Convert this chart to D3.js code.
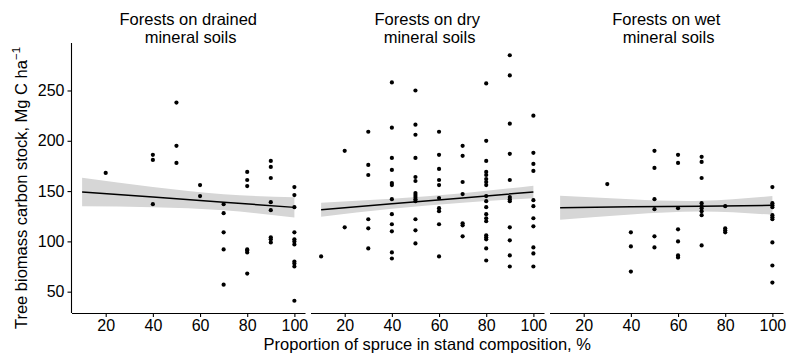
<!DOCTYPE html>
<html>
<head>
<meta charset="utf-8">
<script src="https://cdn.jsdelivr.net/npm/d3@7"></script>
<style>
  body { margin: 0; background: #fff; }
  text { font-family: "Liberation Sans", Arial, sans-serif; fill: #000; }
</style>
</head>
<body>
<script>
// facet titles
var panelTitles = [
  ["Forests on drained", " mineral soils"],
  ["Forests on dry", " mineral soils"],
  ["Forests on wet", " mineral soils"]
];

var xTicks = [20, 40, 60, 80, 100];
var yTicks = [50, 100, 150, 200, 250];

// points: [spruce %, carbon stock]
var drained = [
  [20,168],
  [40,186],[40,181],[40,137],
  [50,238],[50,195],[50,178],
  [60,156],[60,145],
  [70,137],[70,128],[70,109],[70,92],[70,57],
  [80,169],[80,161],[80,155],[80,92],[80,91],[80,89],[80,68],
  [90,180],[90,174],[90,163],[90,139],[90,131],[90,104],[90,102],[90,99],
  [100,154],[100,146],[100,134],[100,109],[100,102],[100,100],[100,97],[100,80],[100,78],[100,75],[100,41]
];

var dry = [
  [10,85],
  [20,190],[20,114],
  [30,209],[30,176],[30,166],[30,122],[30,113],[30,93],
  [40,258],[40,213],[40,183],[40,171],[40,158],[40,156],[40,142],[40,127],[40,117],[40,110],[40,89],[40,83],
  [50,250],[50,216],[50,206],[50,183],[50,164],[50,160],[50,148],[50,146],[50,144],[50,142],[50,140],[50,122],[50,111],[50,98],
  [60,209],[60,186],[60,172],[60,161],[60,156],[60,143],[60,133],[60,130],[60,117],[60,85],
  [70,195],[70,185],[70,159],[70,147],[70,118],[70,116],[70,105],
  [80,257],[80,200],[80,180],[80,169],[80,166],[80,162],[80,159],[80,156],[80,145],[80,140],[80,134],[80,127],[80,123],[80,120],[80,106],[80,104],[80,102],[80,93],[80,81],
  [90,285],[90,265],[90,217],[90,187],[90,161],[90,144],[90,142],[90,140],[90,114],[90,101],[90,86],[90,75],
  [100,225],[100,188],[100,177],[100,170],[100,141],[100,135],[100,123],[100,115],[100,94],[100,88],[100,75]
];

var wet = [
  [30,157],
  [40,109],[40,95],[40,70],
  [50,190],[50,173],[50,142],[50,132],[50,105],[50,94],
  [60,186],[60,178],[60,133],[60,112],[60,100],[60,86],[60,84],
  [70,184],[70,179],[70,163],[70,138],[70,135],[70,133],[70,130],[70,126],[70,96],
  [80,135],[80,113],[80,111],[80,109],
  [100,154],[100,138],[100,136],[100,134],[100,126],[100,124],[100,122],[100,99],[100,76],[100,59]
];

// fitted line and confidence band, read at these x values
var fitX = [10, 40, 70, 100];
var drainedFit = [149.1, 144.0, 138.9, 133.8];
var drainedLo  = [134.8, 133.9, 130.9, 123.8];
var drainedHi  = [163.2, 154.1, 146.9, 143.9];
var dryFit = [131.5, 137.4, 143.2, 149.1];
var dryLo  = [124.5, 132.4, 138.5, 142.9];
var dryHi  = [138.5, 142.4, 147.9, 155.3];
var wetFit = [133.5, 134.3, 135.0, 135.8];
var wetLo  = [121.6, 126.8, 129.7, 126.5];
var wetHi  = [145.4, 141.8, 140.3, 145.1];

var panels = [
  {pts: drained, fit: drainedFit, lo: drainedLo, hi: drainedHi},
  {pts: dry, fit: dryFit, lo: dryLo, hi: dryHi},
  {pts: wet, fit: wetFit, lo: wetLo, hi: wetHi}
];

(function() {
var width = 789, height = 357;
var plotTop = 43, plotBottom = 313;
var panelW = 233.5, gap = 5.5, left0 = 71.5;

var svg = d3.select("body").append("svg")
  .attr("width", width)
  .attr("height", height);

var xScale = d3.scaleLinear().domain([5.5, 104.5]).range([0, panelW]);
var yScale = d3.scaleLinear().domain([28.8, 297.2]).range([plotBottom, plotTop]);

panels.forEach(function(p, i) {
  var left = left0 + i * (panelW + gap);
  var g = svg.append("g").attr("transform", "translate(" + left + ",0)");

  // confidence band
  var band = fitX.map(function(x, j) { return {x: x, lo: p.lo[j], hi: p.hi[j]}; });
  g.append("path")
    .datum(band)
    .attr("fill", "#d6d6d6")
    .attr("d", d3.area()
      .curve(d3.curveNatural)
      .x(function(d) { return xScale(d.x); })
      .y0(function(d) { return yScale(d.lo); })
      .y1(function(d) { return yScale(d.hi); }));

  // points
  g.selectAll("circle")
    .data(p.pts)
    .enter().append("circle")
    .attr("cx", function(d) { return xScale(d[0]); })
    .attr("cy", function(d) { return yScale(d[1]); })
    .attr("r", 2.1)
    .attr("fill", "#000");

  // fit line
  var line = fitX.map(function(x, j) { return {x: x, y: p.fit[j]}; });
  g.append("path")
    .datum(line)
    .attr("fill", "none")
    .attr("stroke", "#000")
    .attr("stroke-width", 1.5)
    .attr("d", d3.line()
      .x(function(d) { return xScale(d.x); })
      .y(function(d) { return yScale(d.y); }));

  // x axis
  var ax = g.append("g")
    .attr("transform", "translate(0," + plotBottom + ")")
    .call(d3.axisBottom(xScale).tickValues(xTicks).tickSize(4).tickPadding(3).tickSizeOuter(0));
  ax.select(".domain").attr("stroke", "#000").attr("stroke-width", 1.1);
  ax.selectAll(".tick line").attr("stroke", "#000").attr("stroke-width", 1.1);
  ax.selectAll(".tick text")
    .attr("font-size", 16)
    .attr("font-family", "Liberation Sans, Arial, sans-serif")
    .attr("fill", "#000");

  // facet title
  var t = g.append("text")
    .attr("x", panelW / 2)
    .attr("text-anchor", "middle")
    .attr("font-size", 16.5)
    .style("white-space", "pre");
  panelTitles[i].forEach(function(s, k) {
    t.append("tspan").attr("x", panelW / 2).attr("y", 25 + k * 18).text(s);
  });

  if (i == 0) {
    var ay = g.append("g")
      .call(d3.axisLeft(yScale).tickValues(yTicks).tickSize(4).tickPadding(3).tickSizeOuter(0));
    ay.select(".domain").attr("stroke", "#000").attr("stroke-width", 1.1)
      .attr("d", "M0," + plotTop + "V" + plotBottom);
    ay.selectAll(".tick line").attr("stroke", "#000").attr("stroke-width", 1.1);
    ay.selectAll(".tick text")
      .attr("font-size", 16)
      .attr("font-family", "Liberation Sans, Arial, sans-serif")
      .attr("fill", "#000");
  }
});

// axis titles
var plotRight = left0 + 3 * panelW + 2 * gap;
svg.append("text")
  .attr("x", (left0 + plotRight) / 2)
  .attr("y", 350)
  .attr("text-anchor", "middle")
  .attr("font-size", 16.5)
  .text("Proportion of spruce in stand composition, %");

var yt = svg.append("text")
  .attr("transform", "translate(27," + 188 + ") rotate(-90)")
  .attr("text-anchor", "middle")
  .attr("font-size", 16.5);
yt.append("tspan").text("Tree biomass carbon stock, Mg C ha");
yt.append("tspan").attr("dy", -7).attr("font-size", 11.5).text("\u22121");
})();
</script>
</body>
</html>
